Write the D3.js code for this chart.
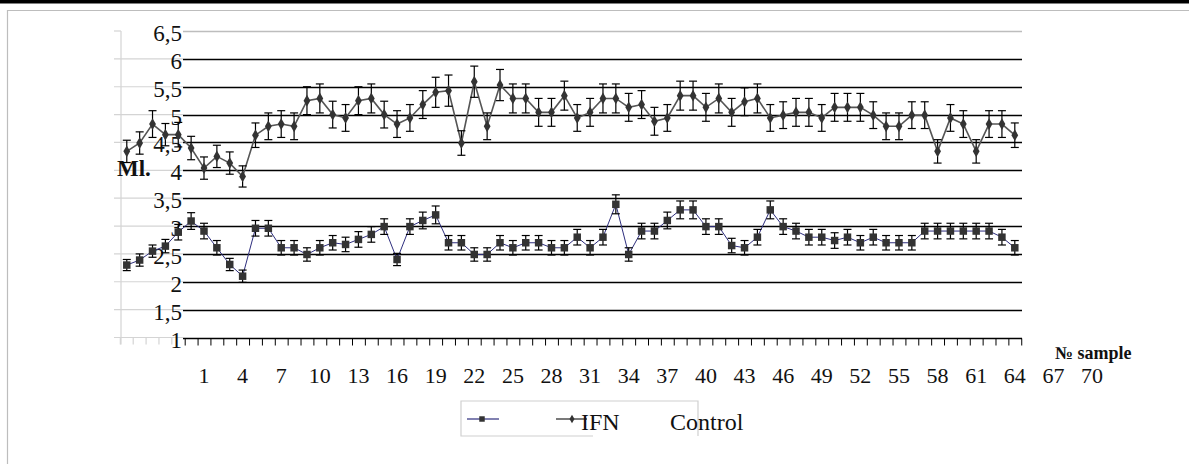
<!DOCTYPE html>
<html>
<head>
<meta charset="utf-8">
<script src="https://cdn.jsdelivr.net/npm/d3@7"></script>
<style>
  html, body { margin: 0; padding: 0; background: #fff; }
  svg { display: block; }
</style>
</head>
<body>
<svg id="chart" width="1189" height="465" font-family="'Liberation Serif', 'DejaVu Serif', 'Times New Roman', Times, serif"></svg>
<script>
// ---- data ----
const samples = d3.range(-5, 65); // category positions of the 70 plotted samples
const xTickLabels = [1, 4, 7, 10, 13, 16, 19, 22, 25, 28, 31, 34, 37, 40, 43, 46, 49, 52, 55, 58, 61, 64, 67, 70];
const yTicks = [1, 1.5, 2, 2.5, 3, 3.5, 4, 4.5, 5, 5.5, 6, 6.5];
const yTickLabels = ["1", "1,5", "2", "2,5", "3", "3,5", "4", "4,5", "5", "5,5", "6", "6,5"];

const ifnValues = [4.34, 4.49, 4.83, 4.64, 4.64, 4.40, 4.04, 4.25, 4.13, 3.89,
                   4.63, 4.79, 4.83, 4.79, 5.25, 5.29, 5.00, 4.94, 5.25, 5.29,
                   5.00, 4.83, 4.94, 5.18, 5.40, 5.43, 4.49, 5.59, 4.79, 5.53,
                   5.29, 5.29, 5.04, 5.04, 5.34, 4.94, 5.04, 5.29, 5.29, 5.13,
                   5.18, 4.88, 4.94, 5.34, 5.34, 5.13, 5.29, 5.04, 5.23, 5.29,
                   4.94, 4.99, 5.04, 5.04, 4.94, 5.13, 5.13, 5.13, 4.99, 4.79,
                   4.79, 4.99, 4.99, 4.34, 4.94, 4.83, 4.34, 4.83, 4.83, 4.63];
const ifnErr = [0.20, 0.20, 0.24, 0.20, 0.22, 0.21, 0.20, 0.20, 0.20, 0.19,
                0.22, 0.24, 0.24, 0.24, 0.25, 0.26, 0.24, 0.24, 0.25, 0.26,
                0.24, 0.24, 0.24, 0.25, 0.27, 0.28, 0.22, 0.28, 0.24, 0.28,
                0.26, 0.26, 0.25, 0.25, 0.26, 0.24, 0.25, 0.26, 0.26, 0.25,
                0.25, 0.25, 0.24, 0.26, 0.26, 0.25, 0.26, 0.25, 0.25, 0.26,
                0.24, 0.24, 0.25, 0.25, 0.24, 0.25, 0.25, 0.25, 0.24, 0.24,
                0.24, 0.24, 0.24, 0.21, 0.24, 0.24, 0.21, 0.24, 0.24, 0.22];

const controlValues = [2.30, 2.39, 2.55, 2.64, 2.89, 3.09, 2.91, 2.61, 2.31, 2.10,
                       2.96, 2.96, 2.61, 2.61, 2.49, 2.61, 2.70, 2.67, 2.76, 2.85,
                       2.99, 2.40, 2.99, 3.10, 3.20, 2.70, 2.70, 2.49, 2.49, 2.70,
                       2.61, 2.70, 2.70, 2.61, 2.61, 2.80, 2.61, 2.80, 3.39, 2.49,
                       2.91, 2.91, 3.10, 3.29, 3.29, 2.99, 2.99, 2.65, 2.61, 2.80,
                       3.29, 2.99, 2.91, 2.80, 2.80, 2.74, 2.80, 2.70, 2.80, 2.70,
                       2.70, 2.70, 2.91, 2.91, 2.91, 2.91, 2.91, 2.91, 2.80, 2.61];
const controlErr = [0.10, 0.11, 0.11, 0.12, 0.14, 0.15, 0.14, 0.13, 0.11, 0.11,
                    0.14, 0.14, 0.13, 0.13, 0.12, 0.13, 0.13, 0.13, 0.14, 0.14,
                    0.14, 0.11, 0.14, 0.15, 0.16, 0.13, 0.13, 0.12, 0.12, 0.13,
                    0.13, 0.13, 0.13, 0.13, 0.13, 0.14, 0.13, 0.14, 0.17, 0.12,
                    0.14, 0.14, 0.15, 0.16, 0.16, 0.14, 0.14, 0.13, 0.13, 0.14,
                    0.16, 0.14, 0.14, 0.14, 0.14, 0.14, 0.14, 0.13, 0.14, 0.13,
                    0.13, 0.13, 0.14, 0.14, 0.14, 0.14, 0.14, 0.14, 0.14, 0.13];

const seriesNames = ["IFN", "Control"];

// ---- layout ----
const svg = d3.select("#chart");
const x = d3.scaleLinear().domain([1, 64]).range([204, 1014.8]);
const y = d3.scaleLinear().domain([1, 6.5]).range([337.5, 31]);
const plotLeft = 183, plotRight = 1022;
const textColor = "#111";

// page decorations
svg.append("rect").attr("x", 0).attr("y", 0).attr("width", 1189).attr("height", 3.5).attr("fill", "#000");
svg.append("path").attr("d", "M7.5,464 V10.5 H1189").attr("fill", "none").attr("stroke", "#bdbdbd").attr("stroke-width", 1.2);

// ghost (gray) axis on the left
const ghost = svg.append("g").attr("stroke", "#d4d4d4").attr("stroke-width", 1.2);
ghost.append("line").attr("x1", 121).attr("x2", 121).attr("y1", y(6.5)).attr("y2", y(1) + 7);
yTicks.forEach(t => {
  ghost.append("line").attr("x1", 114).attr("x2", t === 6.5 ? 121 : plotLeft)
    .attr("y1", y(t)).attr("y2", y(t));
});
[-5.5, -4.5, -3.5, -2.5, -1.5].forEach(v => {
  ghost.append("line").attr("x1", x(v)).attr("x2", x(v)).attr("y1", y(1)).attr("y2", y(1) + 7);
});

// gridlines
svg.append("g").selectAll("line").data(yTicks.filter(t => t > 1)).join("line")
  .attr("x1", plotLeft).attr("x2", plotRight)
  .attr("y1", d => Math.round(y(d)) + 0.5).attr("y2", d => Math.round(y(d)) + 0.5)
  .attr("stroke", d => d === 6.5 ? "#bdbdbd" : "#000").attr("stroke-width", 1.3);

// x axis via d3.axisBottom with category-boundary ticks
const boundaryTicks = d3.range(-0.5, 65, 1);
const xAxis = d3.axisBottom(x).tickValues(boundaryTicks).tickSize(7).tickFormat("");
const gx = svg.append("g").attr("transform", `translate(0,${Math.round(y(1)) + 0.5})`).call(xAxis);
gx.attr("font-family", null);
gx.select(".domain").attr("d", `M${plotLeft},0H${plotRight}`).attr("stroke", "#000").attr("stroke-width", 1.3);
gx.selectAll(".tick line").attr("stroke", "#000");

// x tick labels
svg.append("g").selectAll("text").data(xTickLabels).join("text")
  .attr("x", d => x(d)).attr("y", 383).attr("fill", textColor)
  .attr("text-anchor", "middle").attr("font-size", 22).text(d => d);

// y tick labels
svg.append("g").selectAll("text").data(yTicks).join("text")
  .attr("x", 182).attr("y", d => y(d) + 10).attr("fill", textColor)
  .attr("text-anchor", "end").attr("font-size", 23)
  .text((d, i) => yTickLabels[i]);

// axis titles
svg.append("text").attr("x", 117).attr("y", 176).attr("font-size", 23).attr("font-weight", "bold").attr("fill", textColor).text("Ml.");
svg.append("text").attr("x", 1055).attr("y", 359).attr("font-size", 18).attr("font-weight", "bold").attr("fill", textColor).text("№ sample");

// series drawing
function drawSeries(values, errs, lineColor, lineWidth, symbolType, symbolSize) {
  const pts = samples.map((s, i) => ({ s, v: values[i], e: errs[i] }));
  const line = d3.line().x(d => x(d.s)).y(d => y(d.v));
  svg.append("path").datum(pts).attr("d", line)
    .attr("fill", "none").attr("stroke", lineColor).attr("stroke-width", lineWidth);
  const eb = svg.append("g").attr("stroke", "#000").attr("stroke-width", 1.2);
  pts.forEach(d => {
    const cx = x(d.s), y1 = y(d.v + d.e), y2 = y(d.v - d.e);
    eb.append("line").attr("x1", cx).attr("x2", cx).attr("y1", y1).attr("y2", y2);
    eb.append("line").attr("x1", cx - 4).attr("x2", cx + 4).attr("y1", y1).attr("y2", y1);
    eb.append("line").attr("x1", cx - 4).attr("x2", cx + 4).attr("y1", y2).attr("y2", y2);
  });
  svg.append("g").selectAll("path").data(pts).join("path")
    .attr("d", d3.symbol().type(symbolType).size(symbolSize))
    .attr("transform", d => `translate(${x(d.s)},${y(d.v)})`)
    .attr("fill", "#333");
}
drawSeries(ifnValues, ifnErr, "#555", 1.6, d3.symbolDiamond, 40);
drawSeries(controlValues, controlErr, "#2e2e7e", 1, d3.symbolSquare, 56);

// legend
const lg = svg.append("g");
lg.append("path").attr("d", "M593,436 H461 V401 H698 V436").attr("fill", "none").attr("stroke", "#d0d0d0").attr("stroke-width", 1.2);
lg.append("line").attr("x1", 467).attr("x2", 499).attr("y1", 419).attr("y2", 419).attr("stroke", "#2e2e7e").attr("stroke-width", 1.2);
lg.append("path").attr("d", d3.symbol().type(d3.symbolSquare).size(30)).attr("transform", "translate(482,419)").attr("fill", "#333");
lg.append("line").attr("x1", 556).attr("x2", 587).attr("y1", 419).attr("y2", 419).attr("stroke", "#222").attr("stroke-width", 1.2);
lg.append("path").attr("d", d3.symbol().type(d3.symbolDiamond).size(22)).attr("transform", "translate(572,419)").attr("fill", "#333");
lg.append("text").attr("x", 581).attr("y", 430).attr("font-size", 24).attr("fill", textColor).text(seriesNames[0]);
lg.append("text").attr("x", 670).attr("y", 430).attr("font-size", 24).attr("fill", textColor).text(seriesNames[1]);
</script>
</body>
</html>
